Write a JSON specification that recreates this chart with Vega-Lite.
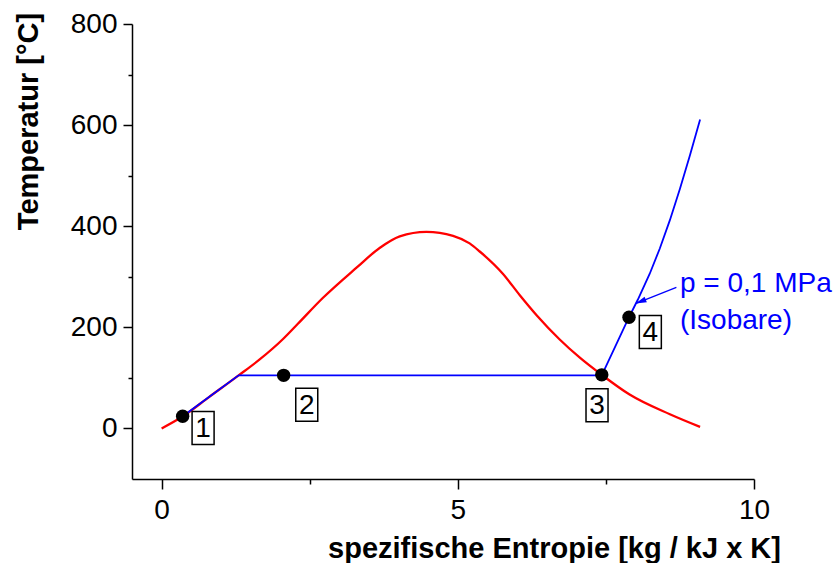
{
  "$schema": "https://vega.github.io/schema/vega-lite/v6.json",
  "autosize": {"type": "none"},
  "padding": {"left": 132, "top": 24, "right": 86, "bottom": 84},
  "width": 622,
  "height": 455,
  "background": "white",
  "config": {
    "view": {"stroke": null},
    "font": "Liberation Sans",
    "axis": {"grid": false, "domainColor": "black", "tickColor": "black", "domainWidth": 1.5, "tickWidth": 1.5, "labelColor": "black", "titleColor": "black", "labelFont": "Liberation Sans", "titleFont": "Liberation Sans", "labelFontSize": 28, "titleFontSize": 29, "titleFontWeight": "bold", "labelOverlap": false, "labelFlush": false, "labelBound": false}
  },
  "datasets": {
    "sat": [
      {"s": 0.0, "T": 0}, {"s": 0.36, "T": 24}, {"s": 0.8, "T": 62}, {"s": 1.3, "T": 105},
      {"s": 1.65, "T": 136}, {"s": 2.05, "T": 177}, {"s": 2.3, "T": 207}, {"s": 2.72, "T": 258},
      {"s": 3.29, "T": 318}, {"s": 3.68, "T": 357}, {"s": 4.02, "T": 380}, {"s": 4.47, "T": 389},
      {"s": 4.92, "T": 381}, {"s": 5.2, "T": 366}, {"s": 5.37, "T": 350}, {"s": 5.76, "T": 306},
      {"s": 6.05, "T": 263}, {"s": 6.33, "T": 224}, {"s": 6.72, "T": 176}, {"s": 7.06, "T": 140},
      {"s": 7.43, "T": 106}, {"s": 7.9, "T": 67}, {"s": 8.58, "T": 28}, {"s": 9.09, "T": 3}
    ],
    "iso": [
      {"s": 0.3, "T": 19}, {"s": 0.8, "T": 62}, {"s": 1.3, "T": 105}, {"s": 7.43, "T": 105},
      {"s": 7.89, "T": 220}, {"s": 8.04, "T": 255}, {"s": 8.24, "T": 306}, {"s": 8.41, "T": 356},
      {"s": 8.58, "T": 412}, {"s": 8.75, "T": 474}, {"s": 8.92, "T": 541}, {"s": 9.09, "T": 611}
    ],
    "pts": [
      {"s": 0.355, "T": 24}, {"s": 2.06, "T": 105}, {"s": 7.43, "T": 106}, {"s": 7.89, "T": 220}
    ],
    "labels": [
      {"s": 0.7, "T": 1, "label": "1"}, {"s": 2.45, "T": 47, "label": "2"},
      {"s": 7.35, "T": 46, "label": "3"}, {"s": 8.25, "T": 191, "label": "4"}
    ],
    "ann": [
      {"s": 8.75, "T": 269, "text": "p = 0,1 MPa"}, {"s": 8.75, "T": 196, "text": "(Isobare)"}
    ],
    "arrow": [
      {"s": 8.69, "T": 279, "s2": 8.0, "T2": 247}
    ]
  },
  "layer": [
    {
      "data": {"name": "sat"},
      "mark": {"type": "line", "color": "#ff0000", "strokeWidth": 2.3, "interpolate": "monotone"},
      "encoding": {
        "x": {"field": "s", "type": "quantitative", "scale": {"domain": [-0.5, 10], "nice": false, "zero": false},
          "axis": {"title": "spezifische Entropie [kg / kJ x K]", "values": [0, 2.5, 5, 7.5, 10], "format": "d",
            "labelExpr": "datum.value % 5 === 0 ? datum.label : ''",
            "tickSize": {"condition": {"test": "datum.value % 5 !== 0", "value": 5}, "value": 10},
            "labelPadding": 7, "titleX": 422, "titleY": 78, "titleAlign": "center", "titleBaseline": "alphabetic", "titleAnchor": null}},
        "y": {"field": "T", "type": "quantitative", "scale": {"domain": [-100, 800], "nice": false, "zero": false},
          "axis": {"title": "Temperatur [°C]", "values": [0, 100, 200, 300, 400, 500, 600, 700, 800], "format": "d",
            "labelExpr": "datum.value % 200 === 0 ? datum.label : ''",
            "tickSize": {"condition": {"test": "datum.value % 200 !== 0", "value": 4}, "value": 9},
            "labelPadding": 6, "titleX": -104, "titleY": 97, "titleAlign": "center", "titleBaseline": "middle", "titleAngle": -90, "titleAnchor": null}},
        "order": {"field": "s", "type": "quantitative"}
      }
    },
    {
      "data": {"name": "iso"},
      "mark": {"type": "line", "color": "#0000ff", "strokeWidth": 1.8},
      "encoding": {
        "x": {"field": "s", "type": "quantitative"},
        "y": {"field": "T", "type": "quantitative"},
        "order": {"field": "s", "type": "quantitative"}
      }
    },
    {
      "data": {"name": "arrow"},
      "mark": {"type": "rule", "color": "#0000ff", "strokeWidth": 1.3},
      "encoding": {
        "x": {"field": "s", "type": "quantitative"},
        "y": {"field": "T", "type": "quantitative"},
        "x2": {"field": "s2"},
        "y2": {"field": "T2"}
      }
    },
    {
      "data": {"name": "arrow"},
      "mark": {"type": "point", "shape": "M0,0L2,-0.55L2,0.55Z", "size": 121, "filled": true, "color": "#0000ff", "opacity": 1, "angle": 338},
      "encoding": {
        "x": {"field": "s2", "type": "quantitative"},
        "y": {"field": "T2", "type": "quantitative"}
      }
    },
    {
      "data": {"name": "pts"},
      "mark": {"type": "point", "shape": "circle", "size": 180, "filled": true, "color": "black", "opacity": 1},
      "encoding": {
        "x": {"field": "s", "type": "quantitative"},
        "y": {"field": "T", "type": "quantitative"}
      }
    },
    {
      "data": {"name": "labels"},
      "mark": {"type": "point", "shape": "M-0.667,-1H0.667V1H-0.667Z", "size": 1089, "fill": "white", "stroke": "black", "strokeWidth": 1.5, "opacity": 1, "fillOpacity": 1},
      "encoding": {
        "x": {"field": "s", "type": "quantitative"},
        "y": {"field": "T", "type": "quantitative"}
      }
    },
    {
      "data": {"name": "labels"},
      "mark": {"type": "text", "fontSize": 28, "color": "black", "align": "center", "baseline": "middle", "dy": 1},
      "encoding": {
        "x": {"field": "s", "type": "quantitative"},
        "y": {"field": "T", "type": "quantitative"},
        "text": {"field": "label"}
      }
    },
    {
      "data": {"name": "ann"},
      "mark": {"type": "text", "fontSize": 28, "color": "#0000ff", "align": "left", "baseline": "alphabetic"},
      "encoding": {
        "x": {"field": "s", "type": "quantitative"},
        "y": {"field": "T", "type": "quantitative"},
        "text": {"field": "text"}
      }
    }
  ]
}
